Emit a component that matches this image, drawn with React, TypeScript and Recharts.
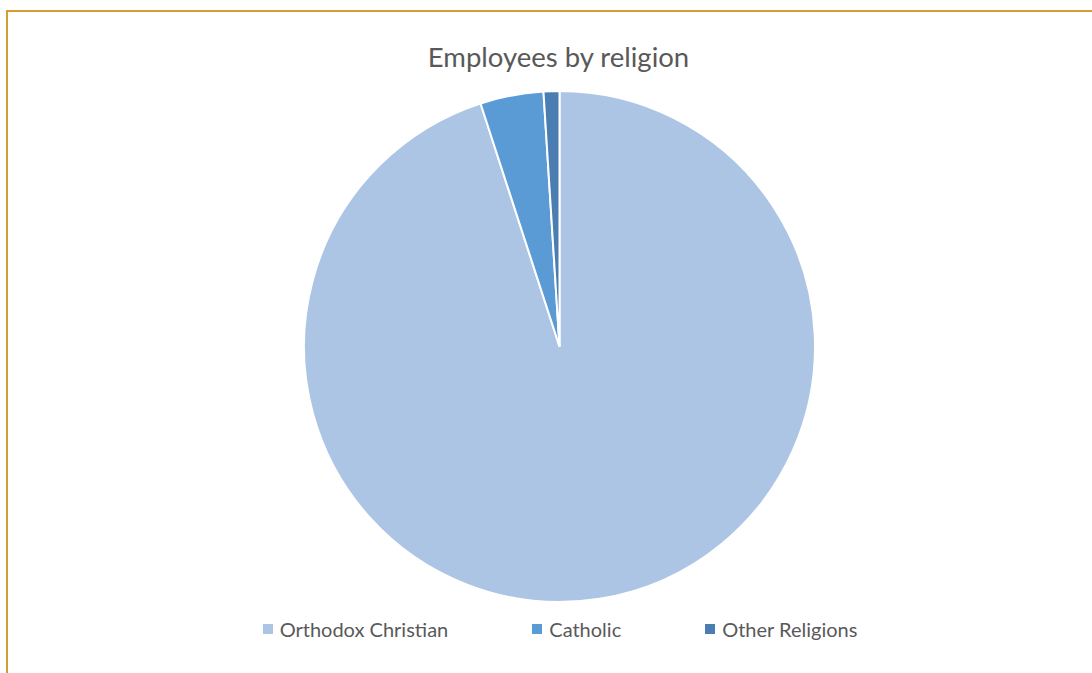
import { PieChart, Pie, Cell } from "recharts";

const religions = ["Orthodox Christian", "Catholic", "Other Religions"];
const employees = [95, 4, 1];
const sliceColors = ["#ADC5E4", "#5B9BD5", "#4A7EB3"];

const pieData = religions.map((name, i) => ({ name, value: employees[i] }));

function ChartLegend() {
  return (
    <div
      style={{
        position: "absolute",
        left: 0,
        width: 1120,
        top: 617,
        display: "flex",
        justifyContent: "center",
        gap: 84,
        fontFamily: "Lato, sans-serif",
        fontSize: 20,
        color: "#595959",
      }}
    >
      {religions.map((name, i) => (
        <div key={name} style={{ display: "flex", alignItems: "center" }}>
          <span
            style={{
              display: "inline-block",
              width: 10,
              height: 10,
              background: sliceColors[i],
              marginRight: 7,
            }}
          />
          <span>{name}</span>
        </div>
      ))}
    </div>
  );
}

export default function App() {
  return (
    <div style={{ position: "absolute", left: 0, top: 0, width: 1092, height: 673, overflow: "hidden", background: "#fff" }}>
      <div
        style={{
          position: "absolute",
          left: 6,
          top: 10,
          width: 1200,
          height: 800,
          borderTop: "2px solid #D49B36",
          borderLeft: "2px solid #D49B36",
          boxSizing: "border-box",
        }}
      />
      <div
        style={{
          position: "absolute",
          left: 0,
          width: 1117,
          top: 40,
          textAlign: "center",
          fontFamily: "Lato, sans-serif",
          fontSize: 27.5,
          color: "#595959",
        }}
      >
        Employees by religion
      </div>
      <div style={{ position: "absolute", left: 0, top: 0 }}>
        <PieChart width={1092} height={673} margin={{ top: 0, right: 0, bottom: 0, left: 0 }}>
          <Pie
            data={pieData}
            dataKey="value"
            nameKey="name"
            cx={559.5}
            cy={346.5}
            outerRadius={255.5}
            startAngle={90}
            endAngle={-270}
            stroke="#ffffff"
            strokeWidth={2}
            isAnimationActive={false}
          >
            {pieData.map((d, i) => (
              <Cell key={d.name} fill={sliceColors[i]} />
            ))}
          </Pie>
        </PieChart>
      </div>
      <ChartLegend />
    </div>
  );
}
